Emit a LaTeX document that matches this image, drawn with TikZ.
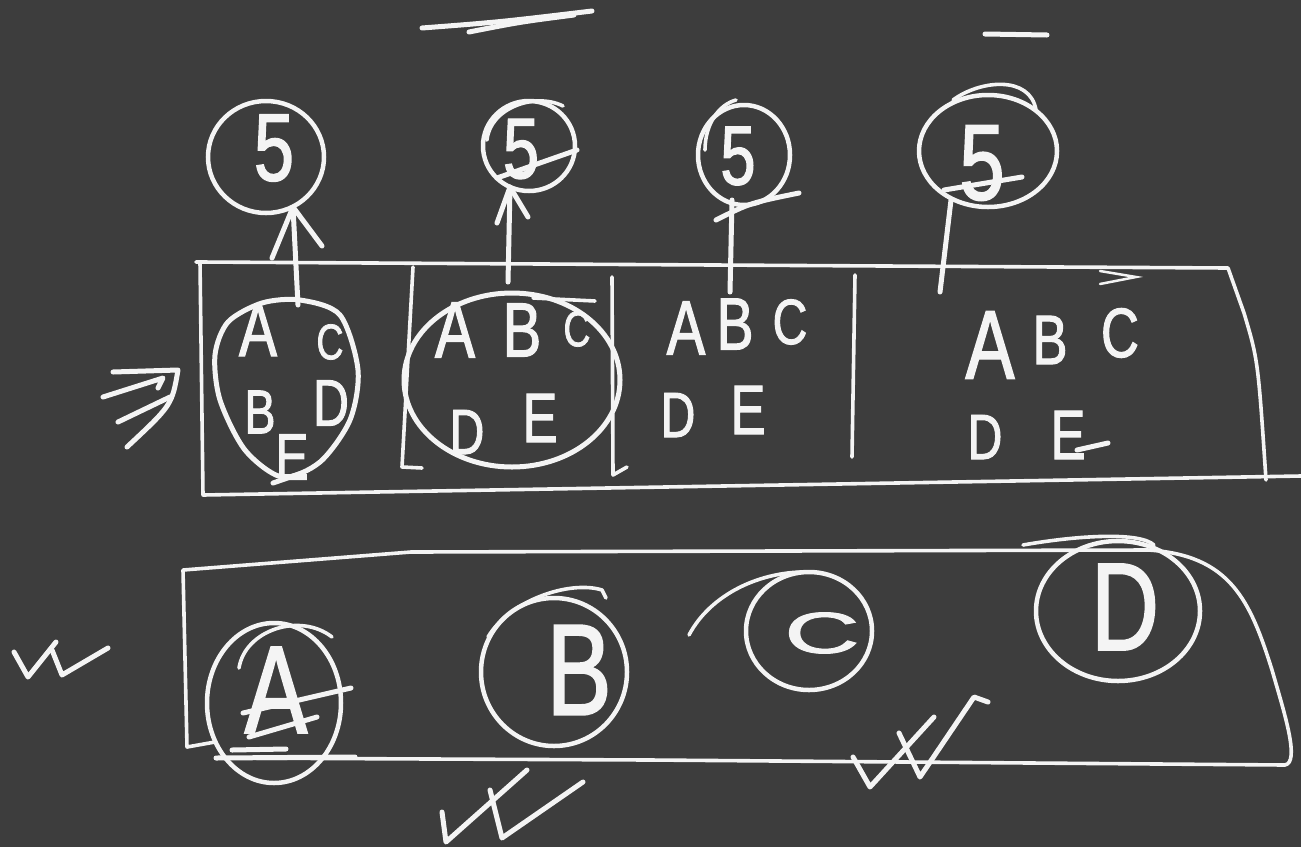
\documentclass[tikz,border=0pt]{standalone}
\usepackage{fontspec}
\newfontfamily\hand[FakeStretch=0.75,FakeBold=1.5]{Liberation Sans}
\newfontfamily\handw[FakeBold=1.5]{Liberation Sans}
\usetikzlibrary{shapes.geometric}
\definecolor{board}{HTML}{3D3D3D}
\definecolor{chalk}{HTML}{F4F4F4}
\begin{document}
\begin{tikzpicture}[x=1pt,y=-1pt,
  ink/.style={draw=chalk, line width=5pt, line cap=round, line join=round},
  thinl/.style={draw=chalk, line width=3.6pt, line cap=round, line join=round},
  ring/.style={ellipse, draw=chalk, line width=4.5pt, inner sep=0pt},
  lbl/.style={text=chalk, inner sep=0pt, font=\hand\fontsize{#1}{#1}\selectfont},
]
\fill[board] (0,0) rectangle (1301,847);
\useasboundingbox (0,0) rectangle (1301,847);

% top strokes
\draw[ink] (422,28) .. controls (500,22) .. (592,11);
\draw[ink] (469,32) .. controls (520,22) .. (574,15);
\draw[ink] (985,34) -- (1047,35);

% upper circles
\node[ring, minimum width=116, minimum height=112] (s1) at (266,157) {};
\node[lbl=96] (t1) at (274,148) {5};
\node[ring, minimum width=92, minimum height=90] (s2) at (529,146) {};
\node[lbl=86] (t2) at (521,149) {5};
\draw[thinl] (487,140) .. controls (490,108) and (535,92) .. (563,106);
\draw[ink] (497,178) -- (577,150);
\node[ring, minimum width=92, minimum height=100] (s3) at (744,155) {};
\node[lbl=84] (t3) at (738,156) {5};
\draw[thinl] (705,150) .. controls (705,125) and (718,105) .. (736,100);
\draw[ink] (716,220) .. controls (750,203) .. (799,193);
\node[ring, minimum width=138, minimum height=112] (s4) at (988,151) {};
\node[lbl=108] (t4) at (982,163) {5};
\draw[thinl] (953,100) .. controls (980,80) and (1030,75) .. (1036,110);
\draw[ink] (944,190) -- (1022,177);

% upper rectangle
\draw[thinl] (200,262) -- (1228,268) -- (1244,313) .. controls (1258,360) .. (1266,480);
\draw[thinl] (196,262) -- (200,262) -- (203,495) -- (1301,476);
\draw[line width=2.5pt, draw=chalk, line cap=round] (1100,271) -- (1136,277) -- (1100,284);
\coordinate (d1a) at (413,267); \coordinate (d1b) at (402,467);
\draw[thinl] (d1a) -- (d1b) -- (422,468);
\coordinate (d2a) at (612,277); \coordinate (d2b) at (613,475);
\draw[thinl] (d2a) -- (d2b) -- (627,467);
\draw[thinl] (533,298) -- (595,301);
\coordinate (d3a) at (855,275); \coordinate (d3b) at (852,457);
\draw[thinl] (d3a) -- (d3b);

% cell 1
\draw[ink] plot[smooth cycle] coordinates {(300,300) (340,315) (358,370) (350,420) (320,462) (282,477) (245,450) (220,400) (215,355) (228,322) (262,303)};
\node[lbl=76] (c1a) at (258,330) {A};
\node[lbl=50] (c1c) at (330,342) {C};
\node[lbl=62] (c1b) at (260,412) {B};
\node[lbl=66] (c1d) at (331,403) {D};
\node[lbl=66] (c1e) at (292,457) {E};
\draw[ink] (273,483) -- (302,473);

% cell 2
\draw[ink] (512,380) ellipse [x radius=108, y radius=87];
\node[lbl=80] (c2a) at (455,330) {A};
\node[lbl=77] (c2b) at (522,330) {B};
\node[lbl=50] (c2c) at (577,329) {C};
\node[lbl=64] (c2d) at (467,432) {D};
\node[lbl=70] (c2e) at (540,418) {E};

% cell 3
\node[lbl=77] (c3a) at (686,328) {A};
\node[lbl=74] (c3b) at (735,324) {B};
\node[lbl=64] (c3c) at (790,322) {C};
\node[lbl=64] (c3d) at (678,415) {D};
\node[lbl=70] (c3e) at (748,410) {E};

% cell 4
\node[lbl=98] (c4a) at (990,345) {A};
\node[lbl=70] (c4b) at (1050,340) {B};
\node[lbl=70] (c4c) at (1120,333) {C};
\node[lbl=64] (c4d) at (985,437) {D};
\node[lbl=70] (c4e) at (1068,435) {E};
\draw[ink] (1077,450) -- (1108,443);

% arrows / connectors
\coordinate (a1s) at (298,305); \coordinate (a1e) at (293,207);
\draw[ink] (a1s) -- (a1e);
\draw[ink] (272,258) -- (a1e) -- (322,246);
\coordinate (a2s) at (508,282); \coordinate (a2e) at (510,187);
\draw[ink] (a2s) -- (a2e);
\draw[ink] (497,223) -- (a2e) -- (528,217);
\coordinate (a3s) at (730,292); \coordinate (a3e) at (732,200);
\draw[ink] (a3s) -- (a3e);
\coordinate (a4s) at (940,292); \coordinate (a4e) at (951,200);
\draw[ink] (a4s) -- (a4e);

% left mark
\draw[ink] (113,372) -- (178,370) .. controls (172,405) .. (127,447);
\draw[ink] (103,397) -- (163,378) -- (158,388);
\draw[ink] (118,422) -- (170,397);

% lower rectangle
\draw[thinl] (215,742) -- (187,747) -- (183,570) -- (411,552) -- (1148,550)
  .. controls (1230,555) and (1250,600) .. (1272,670)
  .. controls (1285,715) and (1300,762) .. (1285,765) -- (650,760) -- (216,758);

% circle A
\node[ring, minimum width=134, minimum height=160] (ca) at (274,703) {};
\draw[thinl] (239,668) .. controls (245,630) and (300,612) .. (332,637);
\node[lbl=125] (la) at (276,690) {A};
\draw[ink] (243,713) -- (351,688);
\draw[ink] (249,737) -- (317,717);
\draw[ink] (216,758) -- (355,757);
\draw[ink] (232,750) -- (286,749);

% circle B
\node[ring, minimum width=146, minimum height=148] (cb) at (554,672) {};
\draw[thinl] (488,637) .. controls (510,600) and (570,580) .. (602,590) -- (606,598);
\node[lbl=130] (lb) at (579,670) {B};

% circle C
\node[ring, minimum width=126, minimum height=118] (cc) at (809,631) {};
\draw[thinl] (689,635) .. controls (710,595) and (760,570) .. (812,572);
\node[text=chalk, inner sep=0pt, font=\handw\fontsize{58}{58}\selectfont] (lc) at (822,633) {\scalebox{1.8}[1]{C}};

% circle D
\node[ring, minimum width=164, minimum height=140] (cd) at (1118,611) {};
\draw[thinl] (1023,545) .. controls (1080,535) and (1140,532) .. (1154,545);
\node[lbl=125] (ld) at (1125,607) {D};

% check marks
\draw[ink] (14,652) -- (28,677) -- (56,642);
\draw[ink] (52,650) -- (62,675) -- (108,648);
\draw[ink] (442,812) -- (446,842) -- (527,770);
\draw[ink] (490,790) -- (502,838) -- (583,782);
\draw[ink] (853,757) -- (870,787) -- (934,717);
\draw[ink] (899,733) -- (920,777) -- (974,697) -- (988,702);
\end{tikzpicture}
\end{document}
